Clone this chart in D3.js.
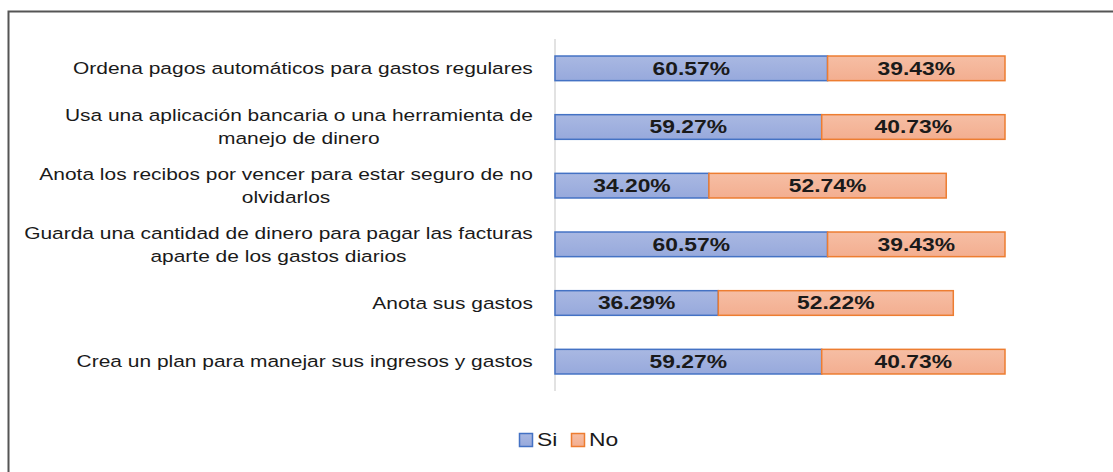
<!DOCTYPE html>
<html>
<head>
<meta charset="utf-8">
<script src="https://cdn.jsdelivr.net/npm/d3@7"></script>
<style>
  body { margin: 0; background: #fff; }
  svg { display: block; font-family: "Liberation Sans", Arial, sans-serif; }
</style>
</head>
<body>
<svg id="chart" width="1113" height="472"></svg>
<script>
// categories, top to bottom (each entry = lines of the label)
var categories = [
  ["Ordena pagos automáticos para gastos regulares"],
  ["Usa una aplicación bancaria o una herramienta de", "manejo de dinero"],
  ["Anota los recibos por vencer para estar seguro de no", "olvidarlos"],
  ["Guarda una cantidad de dinero para pagar las facturas", "aparte de los gastos diarios"],
  ["Anota sus gastos"],
  ["Crea un plan para manejar sus ingresos y gastos"]
];
var siValues = [60.57, 59.27, 34.20, 60.57, 36.29, 59.27];
var noValues = [39.43, 40.73, 52.74, 39.43, 52.22, 40.73];
var seriesNames = ["Si", "No"];

// the source picture is stretched sideways, so text is too
var stretch = 1.27;

var svg = d3.select("#chart");

// outer frame
svg.append("rect")
   .attr("x", 8.5).attr("y", 11.5)
   .attr("width", 1200).attr("height", 600)
   .attr("fill", "none")
   .attr("stroke", "#555")
   .attr("stroke-width", 2);

var defs = svg.append("defs");
var gBlue = defs.append("linearGradient").attr("id", "gBlue")
  .attr("x1", 0).attr("y1", 0).attr("x2", 0).attr("y2", 1);
gBlue.append("stop").attr("offset", "0%").attr("stop-color", "#a9b8e2");
gBlue.append("stop").attr("offset", "100%").attr("stop-color", "#97a9dc");
var gOrange = defs.append("linearGradient").attr("id", "gOrange")
  .attr("x1", 0).attr("y1", 0).attr("x2", 0).attr("y2", 1);
gOrange.append("stop").attr("offset", "0%").attr("stop-color", "#f6bea4");
gOrange.append("stop").attr("offset", "100%").attr("stop-color", "#f3ae90");

var plotLeft = 555, plotRight = 1005, plotTop = 39, plotBottom = 391;

var xScale = d3.scaleLinear().domain([0, 100]).range([plotLeft, plotRight]);
var yScale = d3.scaleBand()
               .domain(d3.range(categories.length))
               .range([plotTop, plotBottom])
               .paddingInner(0.58)
               .paddingOuter(0.29);

// vertical axis line
svg.append("line")
   .attr("x1", plotLeft).attr("x2", plotLeft)
   .attr("y1", plotTop).attr("y2", plotBottom)
   .attr("stroke", "#d9d9d9")
   .attr("stroke-width", 1.5);

var series = [
  { name: seriesNames[0], values: siValues, fill: "url(#gBlue)", stroke: "#4472c4" },
  { name: seriesNames[1], values: noValues, fill: "url(#gOrange)", stroke: "#ed7d31" }
];

series.forEach(function(s, si) {
  var g = svg.append("g");
  g.selectAll("rect")
   .data(s.values)
   .enter().append("rect")
   .attr("x", function(d, i) {
     var start = si === 0 ? 0 : siValues[i];
     return xScale(start);
   })
   .attr("y", function(d, i) { return yScale(i); })
   .attr("width", function(d) { return xScale(d) - xScale(0); })
   .attr("height", yScale.bandwidth())
   .attr("fill", s.fill)
   .attr("stroke", s.stroke)
   .attr("stroke-width", 1.5);

  g.selectAll("text")
   .data(s.values)
   .enter().append("text")
   .attr("transform", function(d, i) {
     var start = si === 0 ? 0 : siValues[i];
     var x = xScale(start + d / 2);
     var y = yScale(i) + yScale.bandwidth() / 2;
     return "translate(" + x + "," + y + ") scale(" + stretch + ",1)";
   })
   .attr("dy", "0.36em")
   .attr("text-anchor", "middle")
   .attr("font-size", 18)
   .attr("font-weight", "bold")
   .attr("fill", "#1a1a1a")
   .text(function(d) { return d.toFixed(2) + "%"; });
});

// category labels: block right-aligned at x=533, lines centred to each other
var lineH = 23;
categories.forEach(function(lines, i) {
  var cy = yScale(i) + yScale.bandwidth() / 2;
  var g = svg.append("g");
  var t = g.append("text")
     .attr("text-anchor", "middle")
     .attr("font-size", 16.5)
     .attr("fill", "#1a1a1a");
  lines.forEach(function(line, j) {
    t.append("tspan")
     .attr("x", 0)
     .attr("y", (j - (lines.length - 1) / 2) * lineH)
     .attr("dy", "0.35em")
     .text(line);
  });
  var w = t.node().getBBox().width * stretch;
  g.attr("transform", "translate(" + (533 - w / 2) + "," + cy + ") scale(" + stretch + ",1)");
});

// legend
var legend = svg.append("g").attr("transform", "translate(519,433)");
var legendX = [0, 52];
series.forEach(function(s, i) {
  var item = legend.append("g").attr("transform", "translate(" + legendX[i] + ",0)");
  item.append("rect")
      .attr("x", 0.5).attr("y", 0.5)
      .attr("width", 13).attr("height", 13)
      .attr("fill", s.fill)
      .attr("stroke", s.stroke)
      .attr("stroke-width", 1.5);
  item.append("text")
      .attr("transform", "translate(18,7) scale(" + stretch + ",1)")
      .attr("dy", "0.36em")
      .attr("font-size", 18)
      .attr("fill", "#1a1a1a")
      .text(s.name);
});
</script>
</body>
</html>
